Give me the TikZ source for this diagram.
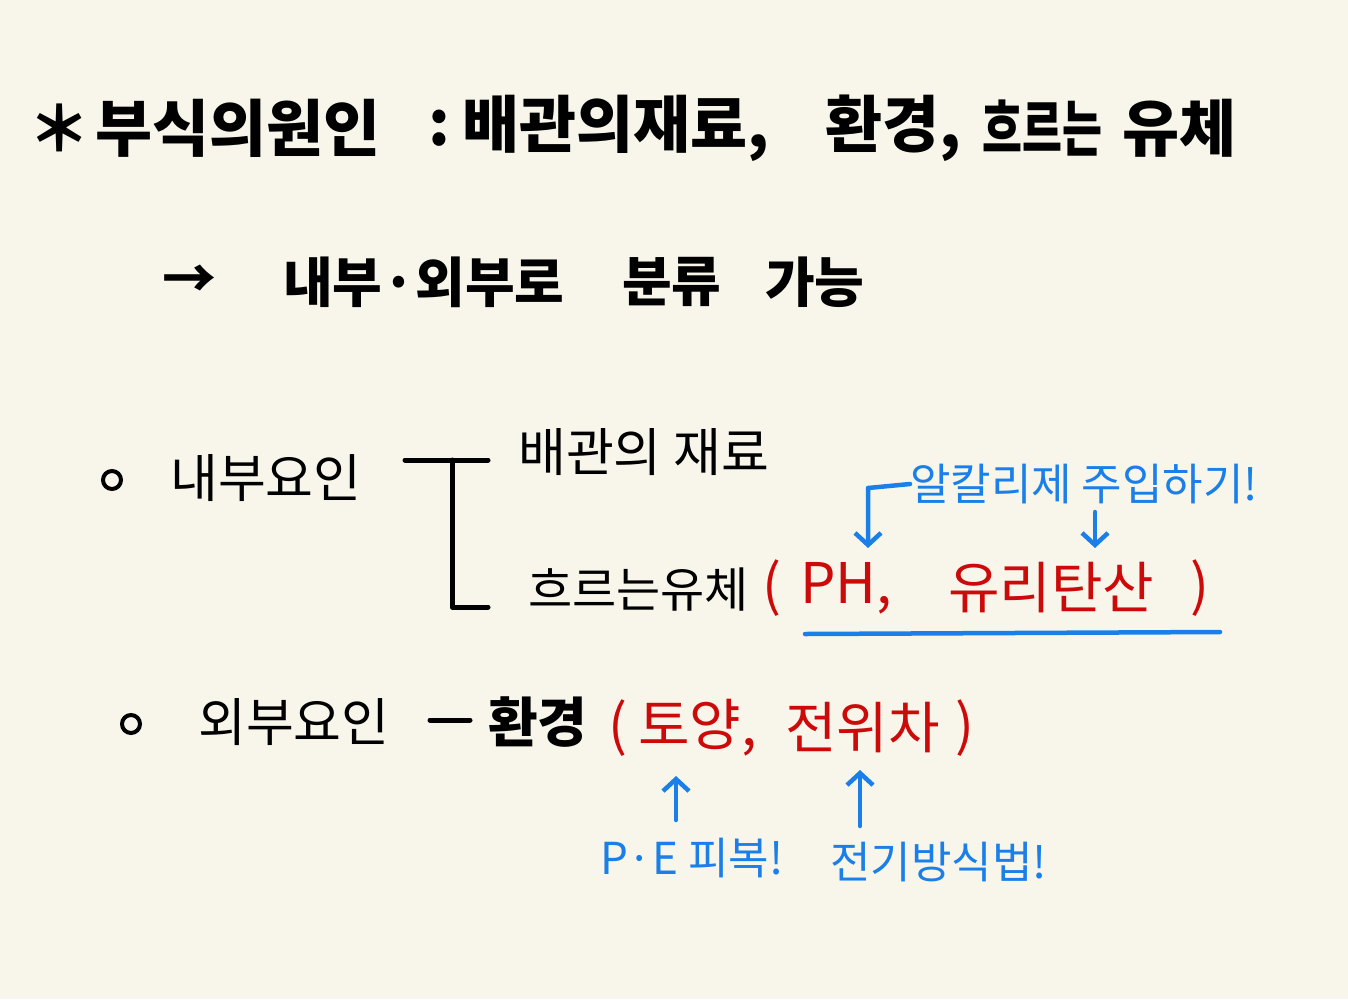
\documentclass[tikz,border=0pt]{standalone}
\usepackage{fontspec}
\setmainfont{Noto Sans CJK KR}
\usetikzlibrary{arrows.meta}
\definecolor{bgc}{HTML}{F8F6EB}
\definecolor{rd}{HTML}{CC0A0A}
\definecolor{bl}{HTML}{1A7FE8}
\tikzset{
  big/.style={inner sep=0pt,anchor=west,font=\fontsize{62}{68}\selectfont\bfseries},
  bignarrow/.style={inner sep=0pt,anchor=west,font=\fontsize{62}{68}\selectfont\bfseries\addfontfeature{FakeStretch=0.7}},
  mid/.style={inner sep=0pt,anchor=west,font=\fontsize{54}{60}\selectfont\bfseries},
  txt/.style={inner sep=0pt,anchor=west,font=\fontsize{52}{58}\selectfont},
  redt/.style={inner sep=0pt,anchor=west,text=rd,font=\fontsize{56}{62}\selectfont},
  bluet/.style={inner sep=0pt,anchor=west,text=bl,font=\fontsize{44}{50}\selectfont},
  bline/.style={line width=5pt,line cap=round,line join=round},
  barrow/.style={draw=bl,line width=4.5pt,line cap=round,line join=round,-{Straight Barb[length=12pt,width=26pt,line width=4.5pt]}},
}
\begin{document}
\begin{tikzpicture}[x=1pt,y=-1pt]
\fill[bgc] (0,0) rectangle (1348,999);
\useasboundingbox (0,0) rectangle (1348,999);
% title
\node[big] (ast) at (28,128) {＊};
\node[big] (t1) at (95,128) {부식의원인};
\node[big] (t2) at (428,128) {:};
\node[big] (t3) at (462,128) {배관의재료,};
\node[big] (t4) at (825,128) {환경,};
\node[bignarrow] (t5) at (982,128) {흐르는};
\node[big] (t6) at (1122,128) {유체};
% second line
\node[mid] (arr) at (162,282) {→};
\node[mid] (s1) at (283,282) {내부·외부로};
\node[mid] (s2) at (622,282) {분류};
\node[mid] (s3) at (765,282) {가능};
% internal
\node[draw,line width=4pt,circle,minimum size=18pt,inner sep=0pt] (c1) at (112,480) {};
\node[txt] (in) at (170,478) {내부요인};
\coordinate (bk0) at (405,460);
\coordinate (bk1) at (452,460);
\coordinate (bk2) at (452,607);
\node[txt] (m1) at (518,452) {배관의 재료};
\node[txt,font=\fontsize{48}{54}\selectfont] (m2) at (528,590) {흐르는유체};
\draw[bline] (bk0) -- (488,460);
\draw[bline] (bk1) -- (bk2) -- (488,607);
\node[redt] (lp) at (762,588) {(};
\node[redt] (ph) at (800,588) {PH,};
\node[redt] (yu) at (948,588) {유리탄산};
\node[redt] (rp) at (1190,588) {)};
\coordinate (u0) at (805,634);
\coordinate (u1) at (1220,632);
\draw[draw=bl,line width=4.5pt,line cap=round] (u0) -- (u1);
\node[bluet] (alk) at (910,484) {알칼리제 주입하기!};
\coordinate (k1) at (868,488);
\draw[barrow] (alk.west) -- (k1) -- (868,548);
\coordinate (a2s) at (1095,512);
\coordinate (a2e) at (1095,548);
\draw[barrow] (a2s) -- (a2e);
% external
\node[draw,line width=4pt,circle,minimum size=18pt,inner sep=0pt] (c2) at (131,724) {};
\node[txt] (ex) at (198,722) {외부요인};
\node[mid] (env) at (488,722) {환경};
\coordinate (d0) at (430,720);
\coordinate (d1) at (470,720);
\draw[bline] (d0) -- (d1);
\node[redt] (lp2) at (608,728) {(};
\node[redt] (soil) at (638,728) {토양,};
\node[redt] (pot) at (785,728) {전위차};
\node[redt] (rp2) at (955,728) {)};
\node[bluet] (pe) at (600,858) {P·E 피복!};
\node[bluet] (cp) at (830,862) {전기방식법!};
\coordinate (p0) at (676,820);
\coordinate (p1) at (676,776);
\coordinate (q0) at (860,826);
\coordinate (q1) at (860,770);
\draw[barrow] (p0) -- (p1);
\draw[barrow] (q0) -- (q1);
\end{tikzpicture}
\end{document}
